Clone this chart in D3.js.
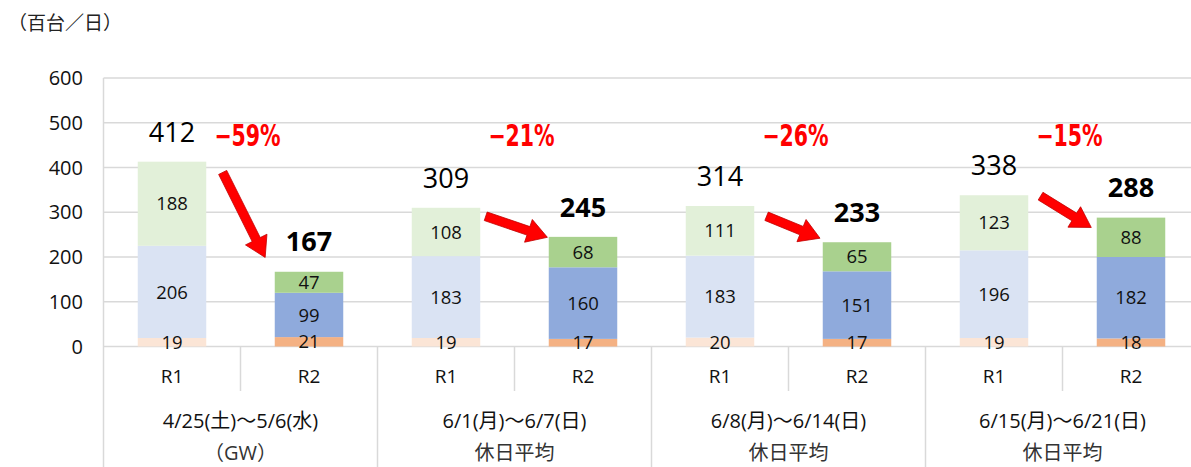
<!DOCTYPE html>
<html>
<head>
<meta charset="utf-8">
<script src="https://cdn.jsdelivr.net/npm/d3@7"></script>
<style>
  body { margin: 0; background: #fff; }
  text { font-family: "Open Sans", "Noto Sans CJK JP", sans-serif; }
</style>
</head>
<body>
<div id="chart"></div>
<script>
var width = 1191, height = 467;

// data
var periods = ["4/25(土)〜5/6(水)", "6/1(月)〜6/7(日)", "6/8(月)〜6/14(日)", "6/15(月)〜6/21(日)"];
var periodNotes = ["（GW）", "休日平均", "休日平均", "休日平均"];
var years = ["R1", "R2"];
var bottomR1 = [19, 19, 20, 19], bottomR2 = [21, 17, 17, 18];
var middleR1 = [206, 183, 183, 196], middleR2 = [99, 160, 151, 182];
var topR1 = [188, 108, 111, 123], topR2 = [47, 68, 65, 88];
var totalR1 = [412, 309, 314, 338], totalR2 = [167, 245, 233, 288];
var changeLabels = ["−59%", "−21%", "−26%", "−15%"];
var yTicks = [0, 100, 200, 300, 400, 500, 600];
// arrow ends, x in bar slots (0..8), y in data units
var arrows = [
  {x0: 0.87, v0: 389, x1: 1.18, v1: 199},
  {x0: 2.79, v0: 291, x1: 3.24, v1: 244},
  {x0: 4.84, v0: 291, x1: 5.23, v1: 242},
  {x0: 6.84, v0: 336, x1: 7.21, v1: 266}
];

var colorsR1 = ["#fbe5d6", "#dae3f3", "#e2f0d9"];
var colorsR2 = ["#f4b183", "#8faadc", "#a9d18e"];

var left = 103.5, right = 1199.5, y0px = 346.5, y600 = 78;
var grid = "#d9d9d9";

var svg = d3.select("#chart").append("svg")
  .attr("width", width).attr("height", height);

var y = d3.scaleLinear().domain([0, 600]).range([y0px, y600]);
var x0 = d3.scaleBand().domain(d3.range(periods.length)).range([left, right]);
var x1 = d3.scaleBand().domain(years).range([0, x0.bandwidth()]).paddingInner(0.5).paddingOuter(0.25);
var slot = d3.scaleLinear().domain([0, 8]).range([left, right]);

// unit label
svg.append("text").attr("x", 8).attr("y", 30)
  .style("font-family", "'Noto Sans CJK JP', sans-serif")
  .style("font-size", "19px").style("fill", "#222")
  .text("（百台／日）");

// gridlines
svg.append("g").selectAll("line").data(yTicks).enter().append("line")
  .attr("x1", left).attr("x2", right)
  .attr("y1", d => y(d)).attr("y2", d => y(d))
  .style("stroke", grid).style("stroke-width", 1.5);

svg.append("g").selectAll("text").data(yTicks).enter().append("text")
  .attr("x", 83).attr("y", d => y(d)).attr("dy", "0.36em")
  .style("text-anchor", "end").style("font-size", "20px").style("fill", "#111")
  .text(d => d);

// build rows of stacked bars
var rows = [];
periods.forEach((p, i) => {
  rows.push({g: i, yr: "R1", vals: [bottomR1[i], middleR1[i], topR1[i]], total: totalR1[i], colors: colorsR1});
  rows.push({g: i, yr: "R2", vals: [bottomR2[i], middleR2[i], topR2[i]], total: totalR2[i], colors: colorsR2});
});

var bars = svg.append("g").selectAll("g").data(rows).enter().append("g")
  .attr("transform", d => "translate(" + (x0(d.g) + x1(d.yr)) + ",0)");

bars.each(function(d) {
  var g = d3.select(this), base = 0;
  d.vals.forEach((v, k) => {
    g.append("rect")
      .attr("x", 0).attr("width", x1.bandwidth())
      .attr("y", y(base + v)).attr("height", y(base) - y(base + v))
      .style("fill", d.colors[k]);
    base += v;
  });
});

// category axis lines
svg.append("line").attr("x1", left).attr("x2", left).attr("y1", y600).attr("y2", height)
  .style("stroke", grid).style("stroke-width", 1.5);
svg.append("g").selectAll("line").data(d3.range(1, periods.length + 1)).enter().append("line")
  .attr("x1", d => d === periods.length ? right : x0(d)).attr("x2", d => d === periods.length ? right : x0(d))
  .attr("y1", y0px).attr("y2", height)
  .style("stroke", grid).style("stroke-width", 1.5);
svg.append("g").selectAll("line").data(d3.range(periods.length)).enter().append("line")
  .attr("x1", d => x0(d) + x0.bandwidth() / 2).attr("x2", d => x0(d) + x0.bandwidth() / 2)
  .attr("y1", y0px).attr("y2", 391)
  .style("stroke", grid).style("stroke-width", 1.5);

// segment labels
bars.each(function(d) {
  var g = d3.select(this), base = 0;
  d.vals.forEach(v => {
    g.append("text")
      .attr("x", x1.bandwidth() / 2).attr("y", y(base + v / 2)).attr("dy", "0.36em")
      .style("text-anchor", "middle").style("font-size", "18.5px").style("fill", "#111")
      .text(v);
    base += v;
  });
  g.append("text")
    .attr("x", x1.bandwidth() / 2).attr("y", y(d.total) - 30).attr("dy", "0.36em")
    .style("text-anchor", "middle").style("font-size", "27px")
    .style("font-weight", d.yr === "R2" ? "bold" : "normal").style("fill", "#000")
    .text(d.total);
});

// R1 / R2 labels
svg.append("g").selectAll("text").data(rows).enter().append("text")
  .attr("x", d => x0(d.g) + x1(d.yr) + x1.bandwidth() / 2).attr("y", 376).attr("dy", "0.36em")
  .style("text-anchor", "middle").style("font-size", "19px").style("fill", "#111")
  .text(d => d.yr);

// period labels
var pg = svg.append("g").selectAll("g").data(periods).enter().append("g");
pg.append("text")
  .attr("x", (d, i) => x0(i) + x0.bandwidth() / 2).attr("y", 421).attr("dy", "0.36em")
  .style("text-anchor", "middle").style("font-size", "20px").style("fill", "#111")
  .text(d => d);
pg.append("text")
  .attr("x", (d, i) => x0(i) + x0.bandwidth() / 2).attr("y", 453).attr("dy", "0.36em")
  .style("text-anchor", "middle").style("font-size", "20px").style("fill", "#333")
  .text((d, i) => periodNotes[i]);

// change labels, drawn condensed
svg.append("g").selectAll("text").data(changeLabels).enter().append("text")
  .attr("transform", (d, i) => "translate(" + (x0(i) + x0.bandwidth() / 2 + 7) + "," + y(472) + ") scale(0.76,1)")
  .attr("dy", "0.36em")
  .style("text-anchor", "middle")
  .style("font-family", "'Liberation Sans Narrow', 'DejaVu Sans Condensed', sans-serif")
  .style("font-size", "30px").style("font-weight", "bold").style("fill", "#ff0000")
  .text(d => d);

// arrows
function arrowPath(a) {
  var ax = slot(a.x0), ay = y(a.v0), bx = slot(a.x1), by = y(a.v1);
  var dx = bx - ax, dy = by - ay, len = Math.sqrt(dx * dx + dy * dy);
  var ux = dx / len, uy = dy / len, nx = -uy, ny = ux;
  var sw = 4.5, hw = 12, hl = 20;
  var hx = bx - ux * hl, hy = by - uy * hl;
  var pts = [
    [ax + nx * sw, ay + ny * sw], [hx + nx * sw, hy + ny * sw], [hx + nx * hw, hy + ny * hw],
    [bx, by], [hx - nx * hw, hy - ny * hw], [hx - nx * sw, hy - ny * sw], [ax - nx * sw, ay - ny * sw]
  ];
  return "M" + pts.map(p => p.join(",")).join("L") + "Z";
}
svg.append("g").selectAll("path").data(arrows).enter().append("path")
  .attr("d", arrowPath)
  .style("fill", "#ff0000").style("stroke", "#c00000").style("stroke-width", 0.8);
</script>
</body>
</html>
